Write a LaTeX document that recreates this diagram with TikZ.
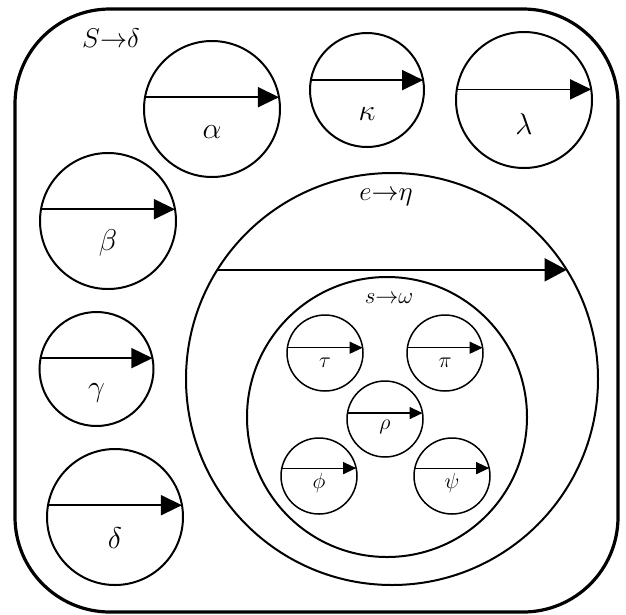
\RequirePackage{fix-cm}
\documentclass[tikz,border=0pt]{standalone}
\usetikzlibrary{arrows.meta}

\begin{document}
\begin{tikzpicture}[x=1pt, y=-1pt,
  ring/.style={draw, circle, line width=2pt, outer sep=0pt, inner sep=0pt},
  dot/.style={draw, circle, line width=1.5pt, outer sep=0pt, inner sep=0pt, minimum size=76pt},
  arr/.style={-{Triangle[length=21pt, width=20pt]}, line width=1.6pt},
  sarr/.style={-{Triangle[length=13pt, width=12pt]}, line width=1.2pt},
  lab/.style={font=\fontsize{30}{34}\selectfont, inner sep=0pt},
  slab/.style={font=\fontsize{22}{26}\selectfont, inner sep=0pt}]
\useasboundingbox (0,0) rectangle (626,614);
\node[draw, line width=3.2pt, rounded corners=95pt, minimum width=603pt, minimum height=603pt, outer sep=0pt] (frame) at (316.5,310.5) {};
\node[lab, font=\fontsize{27}{30}\selectfont] (frame-t) at (111,38) {$S{\rightarrow}\delta$};
% outer circles
\node[ring, minimum size=136pt] (alpha) at (212,109) {};
\node[ring, minimum size=114pt] (kappa) at (367,90) {};
\node[ring, minimum size=136pt] (lambda) at (524,100) {};
\node[ring, minimum size=136pt] (beta) at (108,221) {};
\node[ring, minimum size=114pt] (gamma) at (96.5,369) {};
\node[ring, minimum size=136pt] (delta) at (115,517) {};
\node[lab] (alpha-t) at ([yshift=-23pt]alpha.center) {$\alpha$};
\node[lab] (kappa-t) at ([yshift=-24pt]kappa.center) {$\kappa$};
\node[lab] (lambda-t) at ([yshift=-24pt]lambda.center) {$\lambda$};
\node[lab] (beta-t) at ([yshift=-22pt]beta.center) {$\beta$};
\node[lab] (gamma-t) at ([yshift=-24pt]gamma.center) {$\gamma$};
\node[lab] (delta-t) at ([yshift=-21pt]delta.center) {$\delta$};
\draw[arr] (alpha.170) -- (alpha.10);
\draw[arr] (kappa.170) -- (kappa.10);
\draw[arr] (lambda.171) -- (lambda.9);
\draw[arr] (beta.170) -- (beta.10);
\draw[arr] (gamma.169) -- (gamma.11);
\draw[arr] (delta.170) -- (delta.10);
% nested circles
\node[ring, minimum size=412pt] (eta) at (392,379) {};
\node[lab, font=\fontsize{27}{30}\selectfont] (eta-t) at (386,197) {$e{\rightarrow}\eta$};
\draw[arr, -{Triangle[length=22pt, width=23pt]}] (eta.148) -- (eta.32);
\node[ring, minimum size=280pt] (omega) at (387,417) {};
\node[lab, font=\fontsize{23}{26}\selectfont] (omega-t) at (389,299) {$s{\rightarrow}\omega$};
\node[dot] (tau) at (325,353) {};
\node[dot] (pi) at (445,353) {};
\node[dot] (rho) at (385,419) {};
\node[dot] (phi) at (319,476) {};
\node[dot] (psi) at (452,476) {};
\node[slab] (tau-t) at ([yshift=-10pt]tau.center) {$\tau$};
\node[slab] (pi-t) at ([yshift=-10pt]pi.center) {$\pi$};
\node[slab] (rho-t) at ([yshift=-8pt]rho.center) {$\rho$};
\node[slab] (phi-t) at ([yshift=-7pt]phi.center) {$\phi$};
\node[slab] (psi-t) at ([yshift=-7pt]psi.center) {$\psi$};
\draw[sarr] (tau.172) -- (tau.8);
\draw[sarr] (pi.172) -- (pi.8);
\draw[sarr] (rho.171) -- (rho.9);
\draw[sarr] (phi.168) -- (phi.12);
\draw[sarr] (psi.168) -- (psi.12);
\end{tikzpicture}
\end{document}
